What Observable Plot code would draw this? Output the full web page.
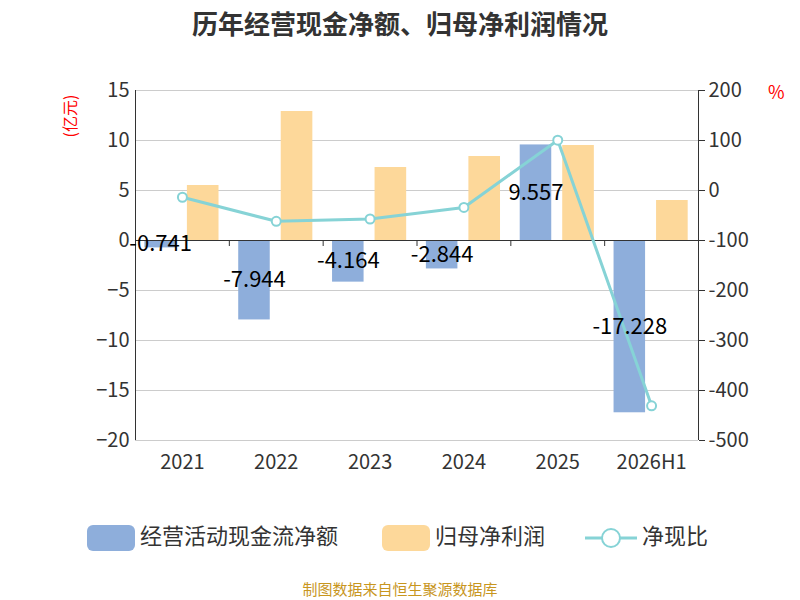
<!DOCTYPE html>
<html><head><meta charset="utf-8">
<script src="https://cdn.jsdelivr.net/npm/d3@7"></script>
<script src="https://cdn.jsdelivr.net/npm/@observablehq/plot@0.6"></script>
<style>
body{margin:0;font-family:"Noto Sans CJK SC","Noto Sans",sans-serif;}
#wrap{position:relative;width:800px;height:600px;}
.t{position:absolute;white-space:nowrap;}
</style></head><body>
<div id="wrap"></div>
<script>
const years=["2021","2022","2023","2024","2025","2026H1"];
const cashFlow=[-0.741,-7.944,-4.164,-2.844,9.557,-17.228];
const netProfit=[5.5,12.9,7.3,8.4,9.5,4.0];
const ratio=[-13.5,-61.6,-57.0,-33.9,100.6,-430.7];
const leftTicks=[15,10,5,0,-5,-10,-15,-20];
const idx=years.map((_,i)=>i);
const bounds=[0.5,1.5,2.5,3.5,4.5];
const toLeft=r=>5+0.05*r;
const font="Noto Sans CJK SC, Noto Sans, sans-serif";
const plot=Plot.plot({
  width:800,height:600,marginTop:90,marginBottom:160,marginLeft:135,marginRight:102,
  style:{fontFamily:font,fontSize:"20px",color:"#333",background:"transparent"},
  x:{type:"linear",domain:[-0.5,5.5]},
  y:{domain:[-20,15]},
  marks:[
    Plot.gridY(leftTicks,{stroke:"#ccc",strokeOpacity:1}),
    Plot.rectY(idx,{x1:i=>i-0.40,x2:i=>i-0.064,y1:0,y2:i=>cashFlow[i],fill:"#8eaedb"}),
    Plot.rectY(idx,{x1:i=>i+0.053,x2:i=>i+0.39,y1:0,y2:i=>netProfit[i],fill:"#fdd89a"}),
    Plot.ruleY([0],{stroke:"#333",strokeWidth:1.2}),
    Plot.axisY(leftTicks,{anchor:"left",tickSize:0,tickPadding:6,fontSize:20}),
    Plot.ruleX([-0.5],{stroke:"#333"}),
    Plot.ruleX([5.5],{stroke:"#333"}),
    Plot.axisY(leftTicks,{anchor:"right",tickSize:6,tickPadding:4,tickFormat:v=>String(Math.round(20*v-100)),fontSize:20}),
    Plot.ruleX(bounds,{y1:0,y2:-0.6,stroke:"#333"}),
    Plot.axisX(idx,{tickSize:0,tickPadding:14,tickFormat:i=>years[i],fontSize:20}),
    Plot.line(idx,{x:i=>i,y:i=>toLeft(ratio[i]),stroke:"#86d3d6",strokeWidth:3}),
    Plot.dot(idx,{x:i=>i,y:i=>toLeft(ratio[i]),r:4.5,fill:"white",stroke:"#86d3d6",strokeWidth:2}),
    Plot.text(idx,{x:i=>i-0.232,y:i=>cashFlow[i]/2,text:i=>String(cashFlow[i]),fill:"#000",fontSize:22})
  ]
});
const w=document.getElementById("wrap");
plot.style.position="absolute";plot.style.left="0";plot.style.top="0";
w.appendChild(plot);
function add(html,css){const d=document.createElement("div");d.className="t";d.innerHTML=html;Object.assign(d.style,css);w.appendChild(d);}
add("历年经营现金净额、归母净利润情况",{left:"0",width:"800px",textAlign:"center",top:"4px",fontSize:"26px",fontWeight:"bold",color:"#333"});
add("(亿元)",{left:"48px",top:"104px",fontSize:"16px",color:"red",transform:"rotate(-90deg)"});
add("%",{left:"768px",top:"78px",fontSize:"18px",color:"red"});
add('<span style="display:inline-block;width:48px;height:26px;border-radius:6px;background:#8eaedb;vertical-align:middle"></span> 经营活动现金流净额',{left:"87px",top:"518px",fontSize:"22px",color:"#333"});
add('<span style="display:inline-block;width:48px;height:26px;border-radius:6px;background:#fdd89a;vertical-align:middle"></span> 归母净利润',{left:"382px",top:"518px",fontSize:"22px",color:"#333"});
add('<svg width="52" height="26" style="vertical-align:middle"><line x1="0" y1="13" x2="52" y2="13" stroke="#86d3d6" stroke-width="3"/><circle cx="26" cy="13" r="9" fill="white" stroke="#86d3d6" stroke-width="2"/></svg> 净现比',{left:"585px",top:"518px",fontSize:"22px",color:"#333"});
add("制图数据来自恒生聚源数据库",{left:"0",width:"800px",textAlign:"center",top:"578px",fontSize:"15px",color:"#c8961e"});
</script></body></html>
